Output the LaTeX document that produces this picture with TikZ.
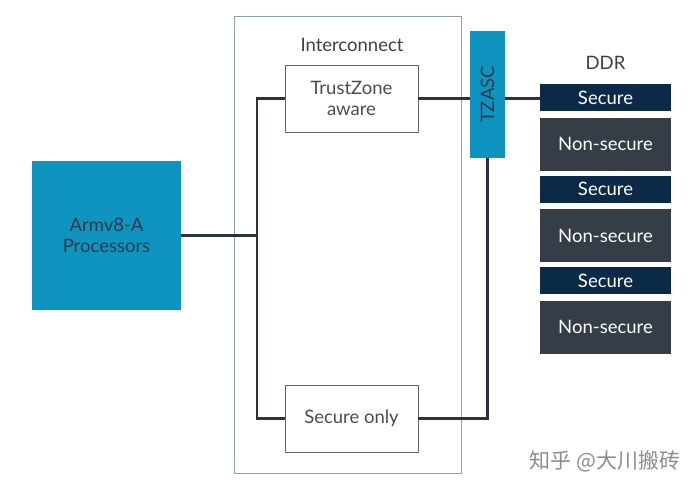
\documentclass[tikz,border=0pt]{standalone}
\usepackage{fontspec}
\setmainfont{Lato}
\newfontfamily\cjk{Noto Sans CJK SC}
\definecolor{armblue}{HTML}{0E94BE}
\definecolor{armtext}{HTML}{2C3A4A}
\definecolor{wirecol}{HTML}{2B3340}
\definecolor{secnavy}{HTML}{0B2A47}
\definecolor{nsgray}{HTML}{353E47}
\definecolor{framecol}{HTML}{8DA3B0}
\tikzset{
    bluebox/.style={rectangle, fill=armblue, text=armtext, align=center, inner sep=0pt},
    plainbox/.style={rectangle, draw=black!60, fill=white, text=black!70, align=center, minimum width=133pt, minimum height=67pt, inner sep=0pt},
    ddrsec/.style={rectangle, fill=secnavy, text=white, minimum width=131pt, minimum height=27pt, inner sep=0pt},
    ddrns/.style={rectangle, fill=nsgray, text=white, minimum width=131pt, minimum height=53pt, inner sep=0pt},
    wire/.style={draw=wirecol, line width=2.6pt},
}
\begin{document}
\begin{tikzpicture}[x=1pt, y=-1pt, font=\fontsize{18.5}{21}\selectfont]
            \useasboundingbox (0,0) rectangle (691,485);
            % Interconnect frame
            \node[rectangle, draw=framecol, line width=1pt, minimum width=227pt, minimum height=457pt] (ic) at (347.5,244.5) {};
            \node[text=black!75] (iclabel) at (352,45) {Interconnect};
            % Processor and the two interconnect ports
            \node[bluebox, minimum width=149pt, minimum height=149pt] (cpu) at (106.5,235.5) {Armv8-A\\Processors};
            \node[plainbox] (tz) at (351.5,98.5) {TrustZone\\aware};
            \node[plainbox] (so) at (351.5,418.5) {Secure only};
            \node[bluebox, minimum width=35pt, minimum height=127pt] (tzasc) at (487.5,94.5) {\rotatebox{90}{TZASC}};
            % DDR regions
            \node[text=black!75] (ddr) at (605.5,63) {DDR};
            \foreach \i in {0,1,2} {
                    \node[ddrsec] (sec\i) at (605.5,97.5+91.5*\i) {Secure};
                    \node[ddrns] (ns\i) at (605.5,144+91.5*\i) {Non-secure};
                }
            % Bus
            \coordinate (bus) at (257,235.5);
            \draw[wire] (cpu.east) -- (bus);
            \draw[wire] (tz.west) -| (bus) |- (so.west);
            \draw[wire] (tz.east) -- (tz.east -| tzasc.west);
            \draw[wire] (tz.east -| tzasc.east) -- (tz.east -| sec0.west);
            \draw[wire] (so.east) -| (tzasc.south);
            % Watermark
            \node[text=black!45, font=\cjk\fontsize{21}{24}\selectfont] (mark) at (605,461) {知乎 @大川搬砖};
        \end{tikzpicture}
\end{document}
